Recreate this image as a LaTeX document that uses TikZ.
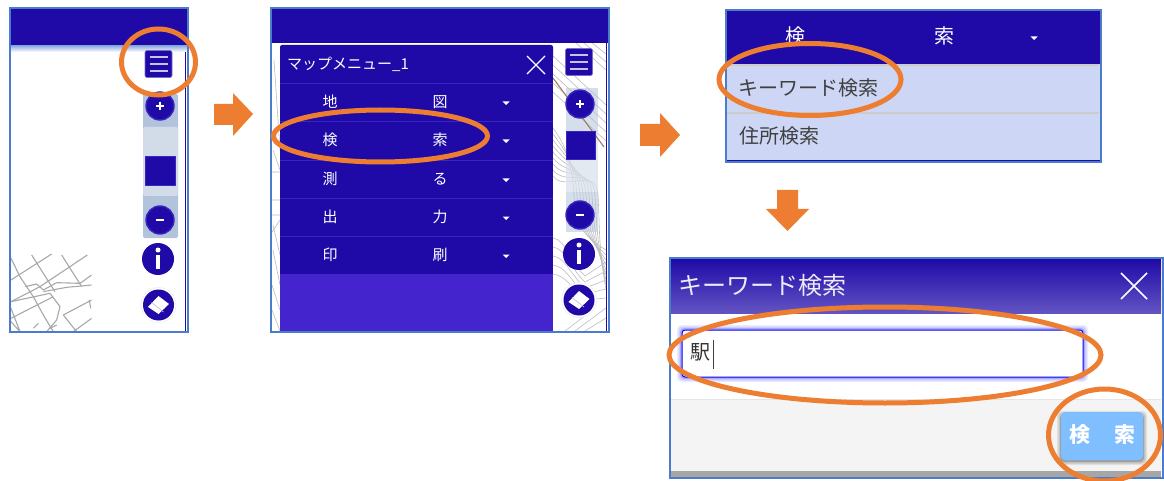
\documentclass[tikz,border=0pt]{standalone}
\usepackage{fontspec}
\setmainfont{Noto Sans CJK JP}
\newfontfamily\cjk{Noto Sans CJK JP}
\definecolor{navy}{HTML}{1F0AA8}
\definecolor{frameb}{HTML}{4A7CCB}
\definecolor{orng}{HTML}{ED7D31}
\definecolor{menuline}{HTML}{3A25C0}
\definecolor{menulow}{HTML}{4424CC}
\definecolor{paleb}{HTML}{CDD7F5}
\definecolor{slidera}{HTML}{B3C3DC}
\definecolor{sliderb}{HTML}{D2DBE8}
\definecolor{btn}{HTML}{80BFFF}
\definecolor{street}{HTML}{A8A8A8}
\definecolor{contour}{HTML}{BDBDBD}
\tikzset{
  x=1pt,y=-1pt,
  frm/.style={draw=frameb,line width=1.6pt},
  ring/.style={draw=orng,line width=5pt},
  blockarrow/.style={fill=orng,draw=none},
  menutxt/.style={text=white,font=\cjk\fontsize{15}{15}\selectfont,inner sep=0pt},
  darktxt/.style={text=black!75,font=\cjk\fontsize{20}{20}\selectfont,inner sep=0pt,anchor=west},
  street line/.style={draw=street,line width=1.1pt},
  contour line/.style={draw=contour,line width=.6pt},
  caret/.style={fill=white,draw=none},
}
\newcommand{\hamb}[2]{%
  \fill[navy,rounded corners=2pt,draw=navy!60!white,line width=.6pt] (#1-13.5,#2-13.5) rectangle (#1+13.5,#2+13.5);
  \draw[white!75!navy,line width=1.3pt] (#1-9,#2-7) -- (#1+9,#2-7) (#1-9,#2) -- (#1+9,#2) (#1-9,#2+7) -- (#1+9,#2+7);}
\newcommand{\zoomb}[3]{%
  \fill[navy,draw=menuline,line width=1.4pt] (#1,#2) circle (14);
  \draw[white,line width=2.6pt] (#1-4,#2) -- (#1+4,#2);
  \ifnum#3=1 \draw[white,line width=2.6pt] (#1,#2-4) -- (#1,#2+4);\fi}
\newcommand{\infob}[2]{%
  \fill[navy] (#1,#2) circle (16);
  \fill[white] (#1,#2-9) circle (2.5);
  \fill[white] (#1-2.4,#2-4) rectangle (#1+2.4,#2+10);}
\newcommand{\layerb}[2]{%
  \fill[white,draw=black!6,line width=.8pt] (#1,#2) circle (17.5);
  \fill[navy] (#1,#2) circle (15.5);
  \fill[white] (#1-10.5,#2+2) -- (#1,#2-9) -- (#1+10.5,#2-1) -- (#1,#2+9) -- cycle;
  \draw[navy!25!white,line width=.7pt] (#1-7,#2-2.5) -- (#1+5,#2+7);}
\newcommand{\carett}[2]{\fill[caret] (#1-3.5,#2-1.5) -- (#1+3.5,#2-1.5) -- (#1,#2+2) -- cycle;}
\begin{document}
\begin{tikzpicture}
\useasboundingbox (0,0) rectangle (1164,481);
\clip (0,0) rectangle (1164,481);
\fill[white] (0,0) rectangle (1164,481);

% ---------- panel 1
\fill[white] (10,9) rectangle (188,332);
\fill[top color=frameb!70!white,bottom color=white] (11,45) rectangle (187,52);
\fill[navy] (11,9) rectangle (187,45);
\draw[navy,line width=1.2pt] (185.5,52) -- (185.5,331);
\begin{scope}[x=1/3 pt,y=-1/3 pt]
\clip (33,760) rectangle (275,995);
\draw[street line] (33,775) -- (60,830) -- (100,890) -- (130,945) -- (160,995);
\draw[street line] (33,840) -- (155,762);
\draw[street line] (95,765) -- (165,875);
\draw[street line] (185,765) -- (245,860);
\draw[street line] (262,765) -- (120,860);
\draw[street line] (120,860) -- (33,905);
\draw[street line] (75,860) -- (110,852) -- (130,870) -- (170,848) -- (240,850) -- (275,825);
\draw[street line] (130,875) -- (200,862) -- (275,855);
\draw[street line] (33,905) -- (150,880) -- (180,920) -- (170,960) -- (140,995);
\draw[street line] (33,955) -- (160,890);
\draw[street line] (190,945) -- (275,900) (268,900) -- (272,925);
\draw[street line] (190,945) -- (230,995) (275,955) -- (220,995);
\draw[street line] (33,925) -- (60,995) (33,965) -- (60,995);
\draw[street line] (100,985) -- (115,970) (150,985) -- (170,975);
\end{scope}
\fill[slidera,rounded corners=2pt] (143,94) rectangle (178,238);
\fill[sliderb,rounded corners=2pt] (143,127) rectangle (178,196);
\fill[navy,draw=menuline,line width=1pt] (145,157) rectangle (175,186);
\hamb{158.5}{64}
\zoomb{160}{106}{1}
\zoomb{160}{220}{0}
\infob{158}{259}
\layerb{158.5}{305}
\draw[frm] (10,8) rectangle (188,332);

% ---------- panel 2
\fill[white] (271,8) rectangle (609,332);
\begin{scope}
\clip (553,42) rectangle (606,331);
% upper right ridge lines
\foreach \d in {0,1,...,4}
  \draw[contour line] (553,56+\d*9) -- (606,105+\d*9);
\foreach \d in {0,1,2}
  \draw[contour line] (575+\d*8,42) -- (606,70+\d*-8);
% contour family
\foreach \d in {0,1,...,8}
  \draw[contour line] (553,128+\d*6) .. controls (566,145+\d*6) and (572+\d*3,165) .. (574+\d*3,195)
     .. controls (576+\d*3,232) and (590+\d,240) .. (606,250+\d*5);
\foreach \d in {0,1,...,4}
  \draw[contour line] (553,238+\d*9) .. controls (566,240+\d*9) and (570,262+\d*6) .. (585,276+\d*6) -- (606,262+\d*9);
\draw[contour line] (575,331) -- (606,308) (565,331) -- (590,312) (585,331) -- (606,318);
\fill[slidera,opacity=.55] (566,88) rectangle (598,232);
\fill[white,opacity=.35] (566,132) rectangle (598,192);
\draw[draw=brown!65!black!75,line width=1.1pt] (553,78) -- (604,147);
\end{scope}
\begin{scope}
\clip (272,42) rectangle (280,331);
\draw[contour line] (274,60) -- (280,150) (273,150) -- (280,170) (272,172) -- (280,172);
\draw[contour line] (272,200) -- (280,200) (272,215) -- (280,215) (272,232) -- (280,220);
\draw[contour line] (273,225) -- (280,255) (273,250) -- (280,285);
\draw[contour line] (272,285) -- (280,310) (272,310) -- (280,331);
\end{scope}
\fill[navy] (272,9) rectangle (608,42);
\draw[navy!85!black,line width=.8pt] (272,42) -- (608,42);
\draw[navy,line width=1.2pt] (606.5,42) -- (606.5,331);
\fill[navy,rounded corners=2pt] (280,45) rectangle (553,60);
\fill[navy] (280,52) rectangle (553,274);
\fill[menulow] (280,274) rectangle (553,331);
\foreach \yy in {83,121,160,198,236}
  \draw[menuline,line width=.9pt] (280,\yy) -- (553,\yy);
\node[anchor=west,text=white,inner sep=0pt,font=\cjk\fontsize{15}{15}\selectfont] (mtitle) at (287,64) {マップメニュー\_1};
\draw[white,line width=1.2pt] (527,56) -- (545,74) (545,56) -- (527,74);
\node[menutxt] (m1a) at (330,102) {地};
\node[menutxt] (m1b) at (440,102) {図};
\node[menutxt] (m2a) at (330,140) {検};
\node[menutxt] (m2b) at (440,140) {索};
\node[menutxt] (m3a) at (330,179) {測};
\node[menutxt] (m3b) at (440,179) {る};
\node[menutxt] (m4a) at (330,217) {出};
\node[menutxt] (m4b) at (440,217) {力};
\node[menutxt] (m5a) at (330,255) {印};
\node[menutxt] (m5b) at (440,255) {刷};
\foreach \yy in {103,141,180,218,256} {\carett{506}{\yy}}
\hamb{579}{62}
\zoomb{580}{104}{1}
\fill[navy,draw=menuline,line width=1pt] (566,132) rectangle (595,160);
\zoomb{580}{215}{0}
\infob{579}{254}
\layerb{579}{300}
\draw[frm] (271,8) rectangle (609,332);

% ---------- panel 3
\fill[paleb] (726,64) rectangle (1100,160);
\fill[navy] (726,10) rectangle (1100,64);
\draw[black!20,line width=1.4pt] (727,65) -- (1099,65) (727,113) -- (1099,113);
\draw[navy,line width=1pt] (727,160.5) -- (1100,160.5);
\node[text=white,inner sep=0pt,font=\cjk\fontsize{20}{20}\selectfont] (h3a) at (795,36) {検};
\node[text=white,inner sep=0pt,font=\cjk\fontsize{20}{20}\selectfont] (h3b) at (944,36) {索};
\carett{1034}{38}
\node[darktxt] (kw) at (738,88) {キーワード検索};
\node[darktxt] (addr) at (739,136) {住所検索};
\draw[frm] (726,10) rectangle (1101,162);

% ---------- panel 4
\fill[white] (670,258) rectangle (1162,478);
\fill[top color=navy,bottom color=navy!70!white] (671,259) rectangle (1161,313);
\node[anchor=west,text=white!92!navy,inner sep=0pt,font=\cjk\fontsize{24}{24}\selectfont] (t4) at (678,285) {キーワード検索};
\draw[white,line width=1.6pt] (1121,273) -- (1147,299) (1147,273) -- (1121,299);
\fill[black!4.5] (671,399) rectangle (1161,472);
\draw[black!10,line width=1pt] (671,399.5) -- (1161,399.5);
\fill[black!35] (671,471) rectangle (1161,477);
\foreach \g/\o in {5/.08,3.5/.12,2/.18}
  \fill[blue,opacity=\o,rounded corners=4pt] (682-\g,330-\g) rectangle (1083+\g,377+\g);
\filldraw[fill=white,draw=blue!75!navy,line width=1pt,rounded corners=3pt] (682,330) rectangle (1083,377);
\node[text=black!80,inner sep=0pt,font=\cjk\fontsize{20}{20}\selectfont] (eki) at (700,352) {駅};
\draw[black!75,line width=.8pt] (713,340) -- (713,369);
\foreach \g/\o in {4/.08,2.5/.12,1/.18}
  \fill[black,opacity=\o,rounded corners=4pt] (1061-\g,415-\g) rectangle (1143+\g,461+\g);
\fill[btn,rounded corners=4pt] (1061,412) rectangle (1143,460);
\node[text=white,inner sep=0pt,font=\cjk\bfseries\fontsize{21}{21}\selectfont] (b1) at (1080,435) {検};
\node[text=white,inner sep=0pt,font=\cjk\bfseries\fontsize{21}{21}\selectfont] (b2) at (1125,435) {索};
\draw[frm] (670,258) rectangle (1163,478);

% ---------- arrows
\fill[blockarrow] (214,104) -- (233,104) -- (233,93) -- (253,114) -- (233,136) -- (233,125) -- (214,125) -- cycle;
\fill[blockarrow] (640,124) -- (660,124) -- (660,113) -- (680,135) -- (660,157) -- (660,146) -- (640,146) -- cycle;
\fill[blockarrow] (777,190) -- (798,190) -- (798,209) -- (809,209) -- (787.5,231) -- (766,209) -- (777,209) -- cycle;

% ---------- rings
\draw[ring] (158.5,62) ellipse [x radius=37,y radius=33];
\draw[ring] (380.5,136) ellipse [x radius=107,y radius=26];
\draw[ring] (810,79.5) ellipse [x radius=91,y radius=36];
\draw[ring] (885,355) ellipse [x radius=216,y radius=48];
\draw[ring] (1104.5,435) ellipse [x radius=56,y radius=46];
\end{tikzpicture}
\end{document}
